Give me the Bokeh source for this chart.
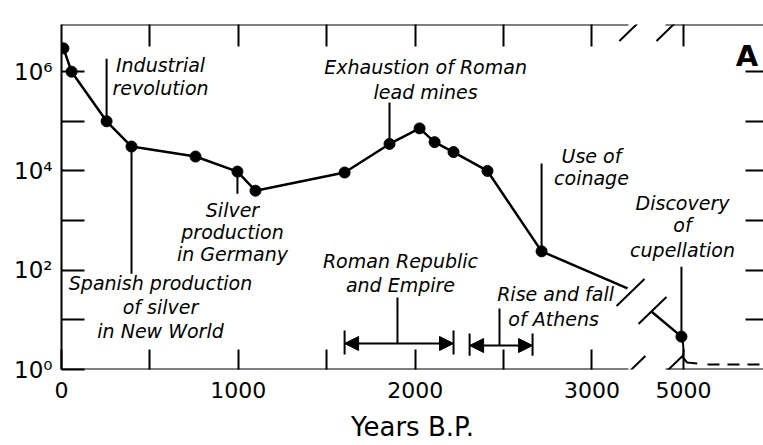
from bokeh.plotting import figure
from bokeh.models import Range1d, FixedTicker, LinearAxis, Arrow, NormalHead
from bokeh.embed import file_html
from bokeh.resources import INLINE
from bokeh.core.properties import value

# ---------------- data ----------------
YEARS_BP = [11, 57, 255, 396, 758, 995, 1097, 1601, 1855, 2025, 2110, 2217, 2409, 2715, 4989]
LEAD_PRODUCTION = [2.95e6, 1.0e6, 1.0e5, 3.1e4, 1.95e4, 9.7e3, 4.0e3, 9.3e3,
                   3.5e4, 7.2e4, 3.8e4, 2.4e4, 1.0e4, 240, 4.6]
# the curve where it runs into / out of the axis break (no markers)
BREAK_LEFT_YEAR, BREAK_LEFT_VALUE = 3201, 43
BREAK_RIGHT_YEAR, BREAK_RIGHT_VALUE = 4819, 14.7
# tail before the discovery of cupellation
TAIL_YEARS = [4989, 4998, 5001, 4998, 5021, 5078]
TAIL_VALUES = [4.6, 3.3, 2.4, 1.75, 1.38, 1.32]
DASH_YEARS = [5136, 5500]
DASH_VALUES = [1.26, 1.26]
# historical periods (years B.P.)
ROMAN_PERIOD = [1601, 2217]
ATHENS_PERIOD = [2308, 2664]

X_TICK_YEARS = [0, 1000, 2000, 3000, 5000]
X_TICK_LABELS = ["0", "1000", "2000", "3000", "5000"]
X_MINOR_YEARS = [500, 1500, 2500]
Y_MAJOR = [1, 100, 10000, 1000000]
Y_TICK_LABELS = ["10\u2070", "10\u00b2", "10\u2074", "10\u2076"]
Y_MINOR = [10, 1000, 100000]

# ---------------- axis-break mapping ----------------
BREAK_AT = 3500          # years beyond this are drawn on the right of the break
SHIFT = 1483             # years removed by the break


def bx(year):
    return year if year < BREAK_AT else year - SHIFT


X_MAX = 3970
Y_MIN, Y_MAX = 1, 10 ** 6.95
FONT = "DejaVu Sans"
TEXT_RAISE = 0.161       # baseline correction, in decades

p = figure(width=763, height=445, x_range=Range1d(0, X_MAX), y_range=Range1d(Y_MIN, Y_MAX),
           y_axis_type="log", output_backend="svg", toolbar_location=None,
           min_border_left=61, min_border_right=0, min_border_top=24, min_border_bottom=76)
p.outline_line_color = None
p.xgrid.visible = False
p.ygrid.visible = False
p.background_fill_color = "white"
p.border_fill_color = "white"

x_major = [bx(y) for y in X_TICK_YEARS]
all_x_ticks = sorted([t for t in x_major if t > 0] + X_MINOR_YEARS)

# bottom axis
xa = p.xaxis[0]
xa.ticker = FixedTicker(ticks=x_major, minor_ticks=X_MINOR_YEARS)
xa.major_label_overrides = {t: lab for t, lab in zip(x_major, X_TICK_LABELS)}
xa.axis_line_color = None
xa.major_tick_in = 20
xa.major_tick_out = 0
xa.major_tick_line_width = 2
xa.minor_tick_in = 20
xa.minor_tick_out = 0
xa.minor_tick_line_width = 2
xa.minor_tick_line_color = "black"
xa.major_label_text_font = FONT
xa.major_label_text_font_size = "22px"
xa.major_label_text_color = "black"
xa.major_label_standoff = 12
xa.axis_label = "Years B.P."
xa.axis_label_text_font = FONT
xa.axis_label_text_font_size = "26px"
xa.axis_label_text_font_style = "normal"
xa.axis_label_text_color = "black"
xa.axis_label_standoff = 11

# left axis
ya = p.yaxis[0]
ya.ticker = FixedTicker(ticks=Y_MAJOR, minor_ticks=Y_MINOR)
ya.major_label_overrides = {t: lab for t, lab in zip(Y_MAJOR, Y_TICK_LABELS)}
ya.axis_line_width = 2
ya.axis_line_color = "black"
ya.major_tick_in = 23
ya.major_tick_out = 0
ya.major_tick_line_width = 2
ya.minor_tick_in = 23
ya.minor_tick_out = 0
ya.minor_tick_line_width = 2
ya.minor_tick_line_color = "black"
ya.major_label_text_font = FONT
ya.major_label_text_font_size = "23px"
ya.major_label_text_color = "black"
ya.major_label_standoff = 9

# top axis (ticks only)
top = LinearAxis(ticker=FixedTicker(ticks=[], minor_ticks=all_x_ticks),
                 axis_line_color=None, major_tick_line_color=None,
                 minor_tick_in=22, minor_tick_out=0, minor_tick_line_width=2,
                 minor_tick_line_color="black", major_label_standoff=0)
p.add_layout(top, "above")

# right axis (ticks only)
right = LinearAxis(ticker=FixedTicker(ticks=[], minor_ticks=Y_MINOR + Y_MAJOR[1:]),
                   axis_line_color=None, major_tick_line_color=None,
                   minor_tick_in=18, minor_tick_out=0, minor_tick_line_width=2,
                   minor_tick_line_color="black", major_label_standoff=0)
p.add_layout(right, "right")

# broken frame lines (bottom and top)
GAP = (3206, 3416)
for yy in (Y_MIN, Y_MAX):
    p.add_layout(Arrow(end=None, x_start=0, y_start=yy, x_end=GAP[0], y_end=yy,
                       line_width=2, line_color="black"))
    p.add_layout(Arrow(end=None, x_start=GAP[1], y_start=yy, x_end=X_MAX, y_end=yy,
                       line_width=2, line_color="black"))

# break slashes: (centre x, centre log10 y)
SLASH_DX = 79
SLASH_DLOG = 0.272
for cx, cl in [(3223, 0.0), (3433, 0.0), (3234, 6.89), (3444, 6.89), (3218, 1.551), (3342, 1.189)]:
    p.add_layout(Arrow(end=None, x_start=cx - SLASH_DX, y_start=10 ** (cl - SLASH_DLOG),
                       x_end=cx + SLASH_DX, y_end=10 ** (cl + SLASH_DLOG),
                       line_width=2, line_color="black"))

# data curve
left_x = [bx(y) for y in YEARS_BP[:-1]] + [bx(BREAK_LEFT_YEAR)]
left_y = LEAD_PRODUCTION[:-1] + [BREAK_LEFT_VALUE]
p.line(left_x, left_y, line_width=2.5, color="black")
p.line([bx(BREAK_RIGHT_YEAR), bx(YEARS_BP[-1])], [BREAK_RIGHT_VALUE, LEAD_PRODUCTION[-1]],
       line_width=2.5, color="black")
p.line([bx(y) for y in TAIL_YEARS], TAIL_VALUES, line_width=2, color="black")
p.line([bx(y) for y in DASH_YEARS], DASH_VALUES, line_width=2, color="black", line_dash="12 8")
p.scatter([bx(y) for y in YEARS_BP], LEAD_PRODUCTION, marker="circle", size=11,
          fill_color="black", line_color="black")

# leader lines (x, from value, to value)
lead_x, lead_y0, lead_y1 = [], [], []
for yr, v, tip in [(YEARS_BP[2], LEAD_PRODUCTION[2], 10 ** 6.26),
                   (YEARS_BP[3], LEAD_PRODUCTION[3], 10 ** 1.93),
                   (YEARS_BP[5], LEAD_PRODUCTION[5], 10 ** 3.54),
                   (YEARS_BP[8], LEAD_PRODUCTION[8], 10 ** 5.38),
                   (YEARS_BP[13], LEAD_PRODUCTION[13], 10 ** 4.15),
                   (YEARS_BP[14], LEAD_PRODUCTION[14], 10 ** 2.07)]:
    lead_x.append(bx(yr)); lead_y0.append(v); lead_y1.append(tip)
# period labels' leaders
lead_x += [1900, 2477]
lead_y0 += [10 ** 1.45, 10 ** 1.229]
lead_y1 += [10 ** 0.524, 10 ** 0.483]
p.segment(lead_x, lead_y0, lead_x, lead_y1, line_width=2, color="black")

# period double arrows with end bars
for (a, b), yl, (blo, bhi) in [(ROMAN_PERIOD, 0.524, (2.0, 6.1)), (ATHENS_PERIOD, 0.483, (1.9, 5.3))]:
    p.add_layout(Arrow(start=NormalHead(size=14, fill_color="black", line_color="black"),
                       end=NormalHead(size=14, fill_color="black", line_color="black"),
                       x_start=a, y_start=10 ** yl, x_end=b, y_end=10 ** yl,
                       line_width=2, line_color="black"))
    p.segment([a, b], [blo, blo], [a, b], [bhi, bhi], line_width=2, color="black")

# annotation texts: (text, x, log10 y of baseline)
ANNOTATIONS = [
    ("Industrial", 560, 5.983), ("revolution", 560, 5.500),
    ("Spanish production", 560, 1.591), ("of silver", 560, 1.088), ("in New World", 560, 0.624),
    ("Silver", 967, 3.062), ("production", 967, 2.619), ("in Germany", 967, 2.156),
    ("Exhaustion of Roman", 2059, 5.942), ("lead mines", 2059, 5.439),
    ("Use of", 2997, 4.150), ("coinage", 2997, 3.687),
    ("Roman Republic", 1917, 2.015), ("and Empire", 1917, 1.551),
    ("Rise and fall", 2794, 1.350), ("of Athens", 2783, 0.866),
    ("Discovery", 3512, 3.203), ("of", 3512, 2.740), ("cupellation", 3512, 2.256),
]
p.text([a[1] for a in ANNOTATIONS], [10 ** (a[2] + TEXT_RAISE) for a in ANNOTATIONS],
       text=[a[0] for a in ANNOTATIONS],
       text_font=value(FONT), text_font_style="italic", text_font_size="19px",
       text_align="center", text_baseline="alphabetic", text_color="black")
p.text([3876], [10 ** (6.164 + TEXT_RAISE)], text=["A"], text_font=value(FONT), text_font_style="bold",
       text_font_size="29px", text_align="center", text_baseline="alphabetic", text_color="black")

open("out.html", "w").write(file_html(p, INLINE))
